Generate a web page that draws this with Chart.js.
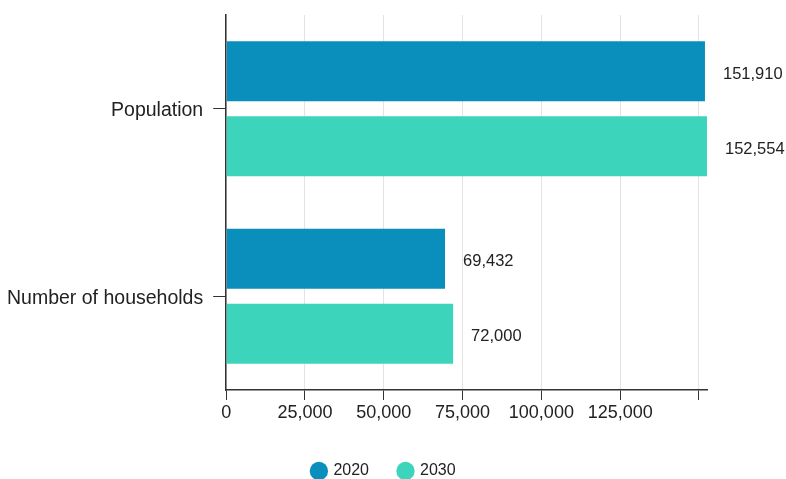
<!DOCTYPE html>
<html>
<head>
<meta charset="utf-8">
<script src="https://cdn.jsdelivr.net/npm/chart.js@4/dist/chart.umd.min.js"></script>
<style>
  html, body { margin: 0; padding: 0; background: #fff; }
  #wrap { width: 786px; height: 479px; }
</style>
</head>
<body>
<div id="wrap"><canvas id="myChart"></canvas></div>
<script>
const categorias = ['Population', 'Number of households'];
const valores2020 = [151910, 69432];
const valores2030 = [152554, 72000];
const marcasX = [0, 25000, 50000, 75000, 100000, 125000, 150000];
const etiquetasX = ['0', '25,000', '50,000', '75,000', '100,000', '125,000', ''];

const fuente = "'Liberation Sans', Arial, Helvetica, sans-serif";

// etiquetas de valor a la derecha de cada barra
const etiquetasBarras = {
  id: 'etiquetasBarras',
  afterDatasetsDraw(chart) {
    const ctx = chart.ctx;
    ctx.save();
    ctx.font = '16.5px ' + fuente;
    ctx.fillStyle = '#222';
    ctx.textBaseline = 'middle';
    chart.data.datasets.forEach((ds, i) => {
      chart.getDatasetMeta(i).data.forEach((bar, j) => {
        ctx.fillText(ds.data[j].toLocaleString('en-US'), bar.x + 18, bar.y + 3);
      });
    });
    ctx.restore();
  }
};

// la leyenda va centrada en toda la imagen, no en el hueco entre paddings
const centrarLeyenda = {
  id: 'centrarLeyenda',
  afterLayout(chart) {
    chart.legend.left = 0;
    chart.legend.right = chart.width - 18;
  }
};

const ctx = document.getElementById('myChart');
new Chart(ctx, {
  type: 'bar',
  data: {
    labels: categorias,
    datasets: [{
      label: '2020',
      data: valores2020,
      backgroundColor: '#0a8fbd',
      categoryPercentage: 0.8,
      barPercentage: 0.8
    }, {
      label: '2030',
      data: valores2030,
      backgroundColor: '#3dd4bc',
      categoryPercentage: 0.8,
      barPercentage: 0.8
    }]
  },
  options: {
    indexAxis: 'y',
    responsive: true,
    maintainAspectRatio: false,
    animation: false,
    layout: { padding: { left: -3, right: 79, top: 15, bottom: -10 } },
    scales: {
      x: {
        min: 0,
        max: 152554,
        afterBuildTicks: (axis) => { axis.ticks = marcasX.map(v => ({ value: v })); },
        afterFit: (axis) => { axis.height = 43; },
        ticks: {
          autoSkip: false,
          maxRotation: 0,
          padding: 2,
          color: '#222',
          font: { size: 18, family: fuente },
          callback: (v, i) => etiquetasX[i]
        },
        grid: { color: '#e3e3e3', tickColor: '#333', tickLength: 10 },
        border: { color: '#333', width: 1.5 }
      },
      y: {
        afterFit: (axis) => { axis.paddingTop = 0; axis.paddingBottom = 0; },
        ticks: {
          padding: 10,
          labelOffset: 2,
          color: '#222',
          font: { size: 19.5, family: fuente }
        },
        grid: { drawOnChartArea: false, offset: false, tickColor: '#333', tickLength: 13 },
        border: { color: '#333', width: 1.5 }
      }
    },
    plugins: {
      legend: {
        position: 'bottom',
        labels: {
          usePointStyle: true,
          pointStyle: 'circle',
          boxWidth: 13,
          boxHeight: 13,
          padding: 30,
          color: '#222',
          font: { size: 16, family: fuente }
        }
      },
      tooltip: { enabled: false }
    }
  },
  plugins: [etiquetasBarras, centrarLeyenda]
});
</script>
</body>
</html>
